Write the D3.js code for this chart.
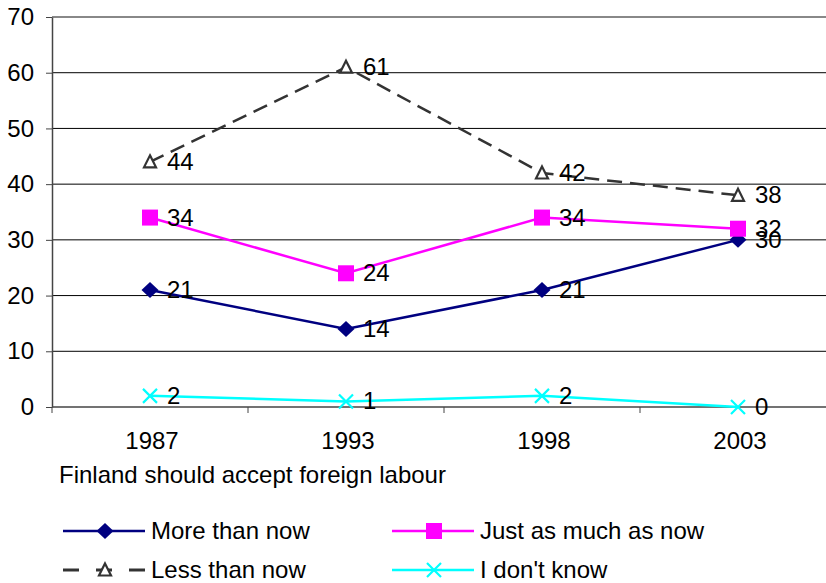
<!DOCTYPE html>
<html>
<head>
<meta charset="utf-8">
<script src="https://cdn.jsdelivr.net/npm/d3@7"></script>
<style>
  body { margin: 0; background: #fff; }
  svg { display: block; font-family: "Liberation Sans", Arial, sans-serif; }
</style>
</head>
<body>
<div id="chart"></div>
<script>
// data
const years = ["1987", "1993", "1998", "2003"];
const moreThanNow = [21, 14, 21, 30];
const justAsMuch = [34, 24, 34, 32];
const lessThanNow = [44, 61, 42, 38];
const dontKnow = [2, 1, 2, 0];
const yTicks = [0, 10, 20, 30, 40, 50, 60, 70];
const xTitle = "Finland should accept foreign labour";

const series = [
    { name: "More than now", values: moreThanNow, color: "#000080", marker: "diamond", dash: null },
    { name: "Just as much as now", values: justAsMuch, color: "#FF00FF", marker: "square", dash: null },
    { name: "Less than now", values: lessThanNow, color: "#333333", marker: "triangle", dash: "15,8" },
    { name: "I don't know", values: dontKnow, color: "#00FFFF", marker: "cross", dash: null }
];

const width = 826;
const height = 583;
const marginLeft = 52;
const marginTop = 17;
const plotBottom = 407;
const band = 196;
const fontSize = 24;

const svg = d3.select("#chart").append("svg")
    .attr("width", width)
    .attr("height", height);

// scales
const x = d3.scaleBand()
    .domain(years)
    .range([marginLeft, marginLeft + band * years.length])
    .padding(0);

const y = d3.scaleLinear()
    .domain([0, 70])
    .range([plotBottom, marginTop]);

const cx = d => x(d) + x.bandwidth() / 2;

// gridlines
svg.append("g")
    .selectAll("line")
    .data(yTicks.filter(t => t > 0 && t < 70))
    .join("line")
        .attr("x1", marginLeft)
        .attr("x2", width)
        .attr("y1", d => y(d))
        .attr("y2", d => y(d))
        .attr("stroke", "#000")
        .attr("stroke-width", 1);

// top border
svg.append("line")
    .attr("x1", marginLeft).attr("x2", width)
    .attr("y1", y(70)).attr("y2", y(70))
    .attr("stroke", "#888").attr("stroke-width", 2);

// y axis
const yAxis = svg.append("g")
    .attr("transform", `translate(${marginLeft},0)`)
    .call(d3.axisLeft(y).tickValues(yTicks).tickSize(6).tickPadding(12).tickSizeOuter(0));
yAxis.select(".domain").attr("stroke", "#444").attr("stroke-width", 1.5);
yAxis.selectAll(".tick line").attr("stroke", "#444");
yAxis.selectAll("text").attr("font-size", fontSize).attr("fill", "#000")
    .attr("font-family", "Liberation Sans, Arial, sans-serif");

// x axis
const xEdges = d3.scaleLinear().domain([0, years.length]).range([marginLeft, marginLeft + band * years.length]);
svg.append("line")
    .attr("x1", marginLeft).attr("x2", width)
    .attr("y1", plotBottom).attr("y2", plotBottom)
    .attr("stroke", "#444").attr("stroke-width", 1.5);
svg.append("g")
    .selectAll("line")
    .data(d3.range(0, years.length + 1))
    .join("line")
        .attr("x1", d => xEdges(d)).attr("x2", d => xEdges(d))
        .attr("y1", plotBottom).attr("y2", plotBottom + 6)
        .attr("stroke", "#444").attr("stroke-width", 1);
svg.append("g")
    .selectAll("text")
    .data(years)
    .join("text")
        .attr("x", d => cx(d) + 2)
        .attr("y", 449)
        .attr("text-anchor", "middle")
        .attr("font-size", fontSize)
        .text(d => d);

svg.append("text")
    .attr("x", 59)
    .attr("y", 483)
    .attr("font-size", fontSize)
    .text(xTitle);

// markers
function drawMarker(g, type, color, px, py) {
    if (type === "diamond") {
        g.append("path")
            .attr("d", `M${px},${py - 8} L${px + 8.5},${py} L${px},${py + 8} L${px - 8.5},${py} Z`)
            .attr("fill", color);
    } else if (type === "square") {
        g.append("rect")
            .attr("x", px - 8).attr("y", py - 8)
            .attr("width", 16).attr("height", 16)
            .attr("fill", color);
    } else if (type === "triangle") {
        g.append("path")
            .attr("d", `M${px},${py - 6.5} L${px + 6},${py + 5.5} L${px - 6},${py + 5.5} Z`)
            .attr("fill", "#fff")
            .attr("stroke", color)
            .attr("stroke-width", 2.2);
    } else if (type === "cross") {
        g.append("path")
            .attr("d", `M${px - 7},${py - 7} L${px + 7},${py + 7} M${px + 7},${py - 7} L${px - 7},${py + 7}`)
            .attr("stroke", color)
            .attr("stroke-width", 2.2);
    }
}

const line = d3.line()
    .x((d, i) => cx(years[i]))
    .y(d => y(d));

series.forEach(s => {
    const g = svg.append("g");
    g.append("path")
        .datum(s.values)
        .attr("d", line)
        .attr("fill", "none")
        .attr("stroke", s.color)
        .attr("stroke-width", 2.5)
        .attr("stroke-dasharray", s.dash);
    s.values.forEach((v, i) => drawMarker(g, s.marker, s.color, cx(years[i]), y(v)));
    g.selectAll("text")
        .data(s.values)
        .join("text")
            .attr("x", (d, i) => cx(years[i]) + 17)
            .attr("y", d => y(d) + 8)
            .attr("font-size", fontSize)
            .attr("fill", "#000")
            .text(d => d);
});

// legend
const legendItems = [
    { s: series[0], x: 63, y: 531 },
    { s: series[1], x: 392, y: 531 },
    { s: series[2], x: 63, y: 570 },
    { s: series[3], x: 392, y: 570 }
];
const legendLen = 82;
legendItems.forEach(item => {
    const g = svg.append("g");
    const s = item.s;
    if (s.dash) {
        [[0, 16], [33, 49], [66, 82]].forEach(seg => {
            g.append("line").attr("x1", item.x + seg[0]).attr("x2", item.x + seg[1])
                .attr("y1", item.y).attr("y2", item.y)
                .attr("stroke", s.color).attr("stroke-width", 3);
        });
    } else {
        g.append("line").attr("x1", item.x).attr("x2", item.x + legendLen)
            .attr("y1", item.y).attr("y2", item.y).attr("stroke", s.color).attr("stroke-width", 2.5);
    }
    drawMarker(g, s.marker, s.color, item.x + 42, item.y);
    g.append("text")
        .attr("x", item.x + 88)
        .attr("y", item.y + 8)
        .attr("font-size", fontSize)
        .text(s.name);
});
</script>
</body>
</html>
